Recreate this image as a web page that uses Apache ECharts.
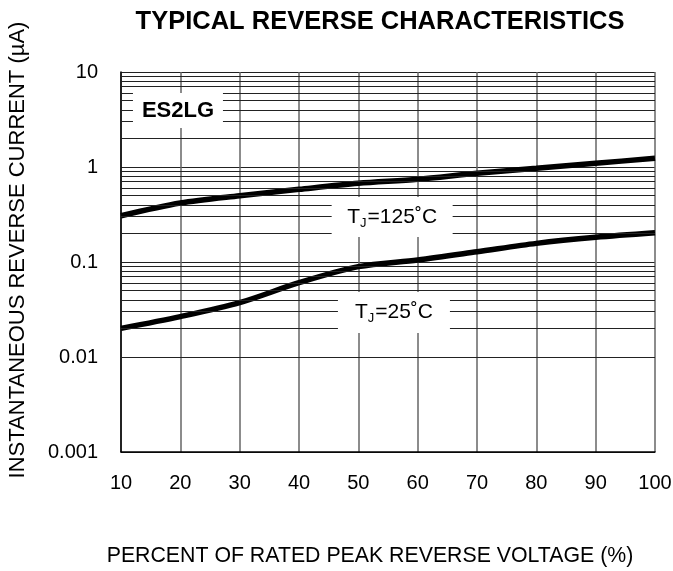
<!DOCTYPE html>
<html>
<head>
    <meta charset="UTF-8">
    <title>Typical Reverse Characteristics</title>
    <style>
        html, body { margin: 0; padding: 0; background: #fff; }
        #box { width: 673px; height: 571px; }
    </style>
    <script src="https://cdn.jsdelivr.net/npm/echarts@6/dist/echarts.min.js"></script>
</head>
<body>
<div id="box"></div>
<script>
    // percent of rated peak reverse voltage
    var voltPct = [10, 20, 30, 40, 50, 60, 70, 80, 90, 100];
    // reverse current (uA)
    var tj125 = [0.307, 0.418, 0.499, 0.582, 0.673, 0.742, 0.859, 0.969, 1.094, 1.235];
    var tj25  = [0.0200, 0.0266, 0.0373, 0.0605, 0.0893, 0.105, 0.128, 0.157, 0.182, 0.203];
    // log grid
    var decades = [0.001, 0.01, 0.1, 1];
    var minorSteps = [2, 3, 4, 5, 6, 7, 8, 9];

    var minorLines = [];
    decades.forEach(function (d) {
        minorSteps.forEach(function (k) {
            minorLines.push({ yAxis: +(d * k).toPrecision(3) });
        });
    });

    function pairs(ys) {
        return voltPct.map(function (x, i) { return [x, ys[i]]; });
    }

    var font = 'Liberation Sans, Arial, sans-serif';
    var myChart = echarts.init(document.getElementById('box'));
    var option = {
        backgroundColor: '#fff',
        animation: false,
        title: {
            text: 'TYPICAL REVERSE CHARACTERISTICS',
            left: 375,
            textAlign: 'center',
            top: 4,
            textStyle: { fontFamily: font, fontSize: 25.5, fontWeight: 'bold', color: '#000' }
        },
        grid: { left: 121, right: 18, top: 72, bottom: 119, outerBoundsMode: 'none' },
        xAxis: {
            type: 'value',
            min: 10,
            max: 100,
            interval: 10,
            name: 'PERCENT OF RATED PEAK REVERSE VOLTAGE (%)',
            nameLocation: 'middle',
            nameGap: 94,
            nameTextStyle: { fontFamily: font, fontSize: 21.3, color: '#000', padding: [0, 36, 0, 0] },
            axisLine: { onZero: false, lineStyle: { color: '#000', width: 1.5 } },
            axisTick: { show: false },
            axisLabel: { fontFamily: font, fontSize: 20, color: '#000', margin: 21 },
            splitLine: { show: true, lineStyle: { color: '#666', width: 1.5 } }
        },
        yAxis: {
            type: 'log',
            logBase: 10,
            min: 0.001,
            max: 10,
            name: 'INSTANTANEOUS REVERSE CURRENT (\u00b5A)',
            nameLocation: 'middle',
            nameGap: 92,
            nameRotate: 90,
            nameTextStyle: { fontFamily: font, fontSize: 22, color: '#000', padding: [0, 0, 0, 24] },
            axisLine: { lineStyle: { color: '#000', width: 1.5 } },
            axisTick: { show: false },
            axisLabel: {
                fontFamily: font, fontSize: 20, color: '#000', margin: 23,
                formatter: function (v) { return String(+v.toPrecision(3)); }
            },
            splitLine: { show: true, lineStyle: { color: '#222', width: 1 } }
        },
        series: [
            {
                // minor log gridlines
                type: 'line',
                data: [],
                silent: true,
                z: 1,
                markLine: {
                    silent: true,
                    symbol: ['none', 'none'],
                    label: { show: false },
                    lineStyle: { color: '#222', width: 1, type: 'solid' },
                    data: minorLines
                }
            },
            {
                // label boxes
                type: 'line',
                data: [],
                silent: true,
                z: 2,
                markPoint: {
                    silent: true,
                    symbol: 'rect',
                    itemStyle: { color: '#fff' },
                    label: {
                        show: true,
                        position: 'inside',
                        color: '#000',
                        fontFamily: font,
                        rich: {
                            t: { fontFamily: font, fontSize: 21, color: '#000' },
                            s: { fontFamily: font, fontSize: 13, color: '#000', padding: [12, 1, 0, 0] },
                            b: { fontFamily: font, fontSize: 22, fontWeight: 'bold', color: '#000' }
                        }
                    },
                    data: [
                        { coord: [55.7, 0.298], symbolSize: [121, 40], label: { formatter: '{t|T}{s|J}{t|=125\u02daC}' } },
                        { coord: [56.0, 0.0294], symbolSize: [112, 41], label: { formatter: '{t|T}{s|J}{t|=25\u02daC}' } },
                        { coord: [19.6, 3.93], symbolSize: [90, 35], label: { formatter: '{b|ES2LG}' } }
                    ]
                }
            },
            {
                name: 'TJ=125',
                type: 'line',
                z: 3,
                smooth: 0.3,
                symbol: 'none',
                lineStyle: { color: '#000', width: 5.5 },
                data: pairs(tj125)
            },
            {
                name: 'TJ=25',
                type: 'line',
                z: 3,
                smooth: 0.3,
                symbol: 'none',
                lineStyle: { color: '#000', width: 5.5 },
                data: pairs(tj25)
            }
        ]
    };
    myChart.setOption(option);
</script>
</body>
</html>
